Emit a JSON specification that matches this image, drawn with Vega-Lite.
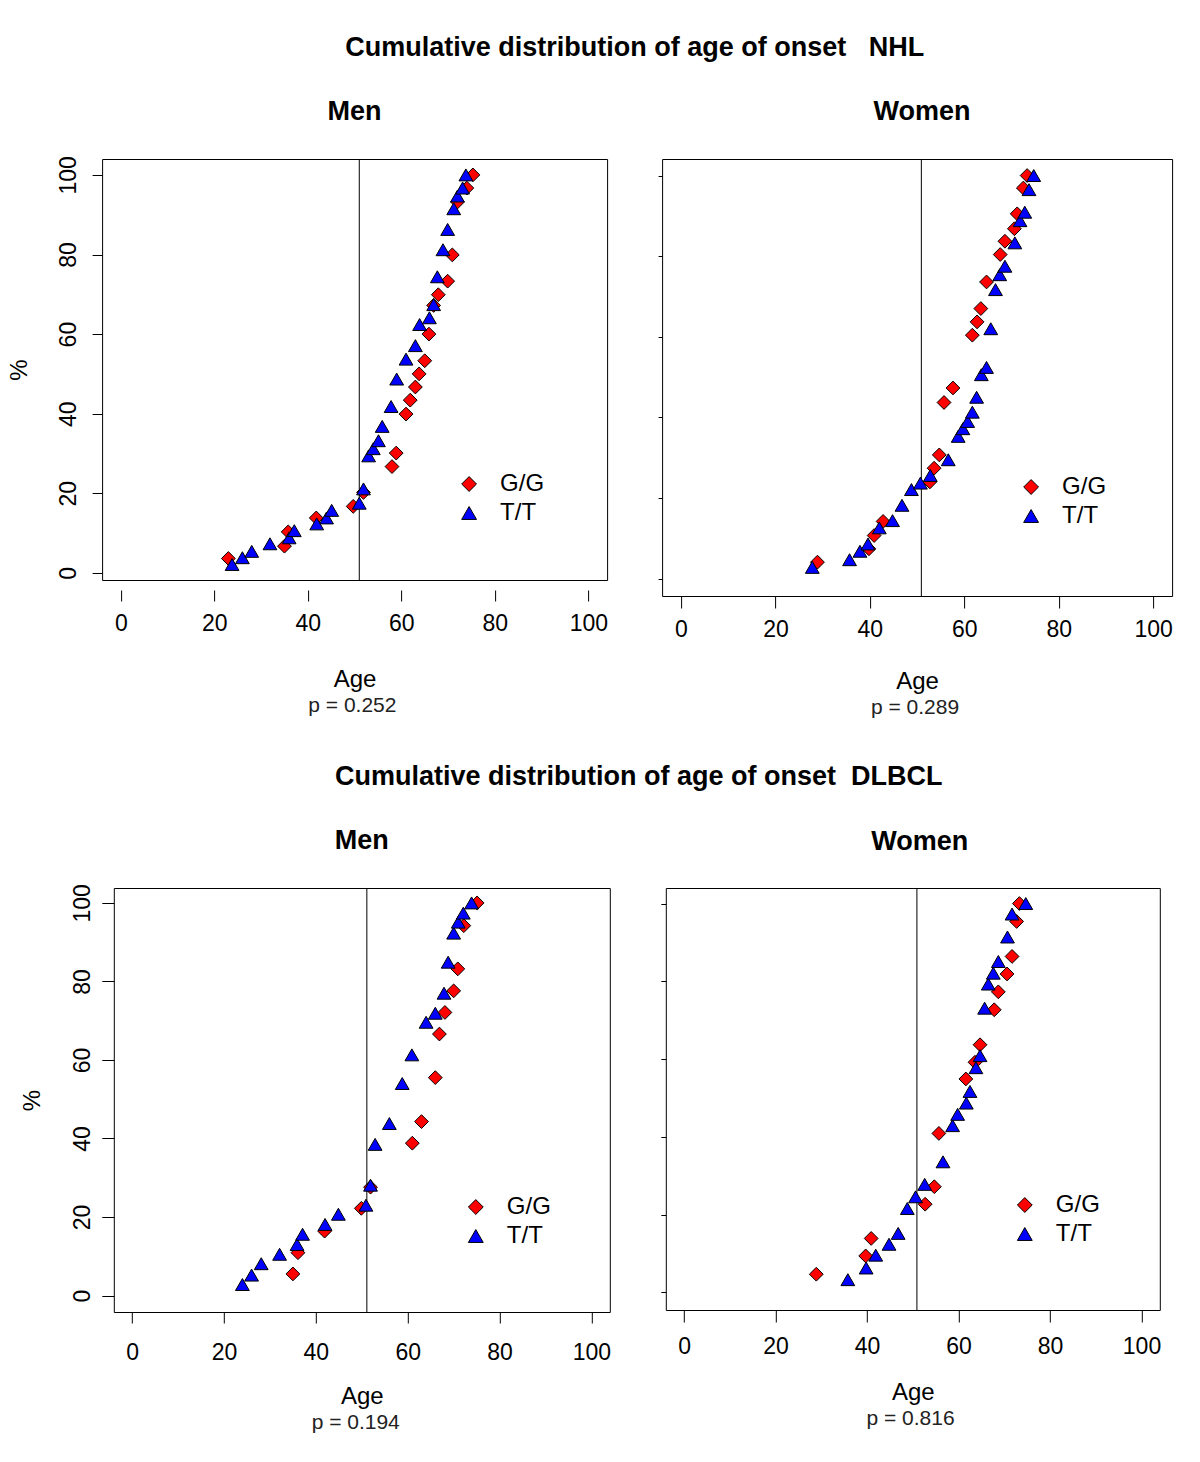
{
  "$schema": "https://vega.github.io/schema/vega-lite/v6.json",
  "background": "white",
  "padding": {"left": 6, "top": 34, "right": 5, "bottom": 5},
  "config": {
    "font": "Liberation Sans",
    "view": {"stroke": "black", "strokeWidth": 1},
    "axis": {"grid": false, "domain": false, "tickColor": "black", "tickWidth": 1, "labelFont": "Liberation Sans", "labelFontSize": 23, "labelColor": "black", "titleFont": "Liberation Sans", "titleFontSize": 24, "titleFontWeight": "normal", "titleColor": "black", "labelOverlap": false, "labelFlush": false},
    "legend": {"labelFont": "Liberation Sans", "labelFontSize": 24, "labelColor": "black", "symbolStrokeColor": "black", "symbolStrokeWidth": 1, "symbolOpacity": 1, "symbolSize": 220, "rowPadding": 5, "labelOffset": 19, "padding": 0},
    "title": {"font": "Liberation Sans", "fontSize": 27, "fontWeight": "bold", "color": "black"}
  },
  "datasets": {
    "medians": [
      {"panel": "nhl_men", "age": 51.0},
      {"panel": "nhl_women", "age": 50.9},
      {"panel": "dlbcl_men", "age": 51.1},
      {"panel": "dlbcl_women", "age": 50.9}
    ],
    "nhl_men": [
      {"genotype": "G/G", "age": 23.0, "pct": 3.6},
      {"genotype": "G/G", "age": 35.0, "pct": 6.7},
      {"genotype": "G/G", "age": 35.8, "pct": 10.3},
      {"genotype": "G/G", "age": 41.8, "pct": 13.8},
      {"genotype": "G/G", "age": 49.7, "pct": 16.7},
      {"genotype": "G/G", "age": 51.9, "pct": 20.2},
      {"genotype": "G/G", "age": 58.0, "pct": 26.7},
      {"genotype": "G/G", "age": 58.9, "pct": 30.1},
      {"genotype": "G/G", "age": 61.0, "pct": 39.9},
      {"genotype": "G/G", "age": 61.9, "pct": 43.4},
      {"genotype": "G/G", "age": 63.0, "pct": 46.7},
      {"genotype": "G/G", "age": 63.8, "pct": 50.0},
      {"genotype": "G/G", "age": 65.0, "pct": 53.3},
      {"genotype": "G/G", "age": 65.9, "pct": 60.0},
      {"genotype": "G/G", "age": 66.9, "pct": 67.2},
      {"genotype": "G/G", "age": 67.9, "pct": 69.9},
      {"genotype": "G/G", "age": 69.9, "pct": 73.3},
      {"genotype": "G/G", "age": 70.9, "pct": 79.9},
      {"genotype": "G/G", "age": 72.0, "pct": 93.2},
      {"genotype": "G/G", "age": 74.0, "pct": 96.7},
      {"genotype": "G/G", "age": 75.3, "pct": 100.0},
      {"genotype": "T/T", "age": 23.8, "pct": 2.1},
      {"genotype": "T/T", "age": 26.0, "pct": 3.8},
      {"genotype": "T/T", "age": 28.0, "pct": 5.4},
      {"genotype": "T/T", "age": 31.9, "pct": 7.3},
      {"genotype": "T/T", "age": 36.0, "pct": 8.8},
      {"genotype": "T/T", "age": 37.1, "pct": 10.6},
      {"genotype": "T/T", "age": 41.9, "pct": 12.3},
      {"genotype": "T/T", "age": 44.0, "pct": 13.8},
      {"genotype": "T/T", "age": 45.1, "pct": 15.7},
      {"genotype": "T/T", "age": 51.0, "pct": 17.5},
      {"genotype": "T/T", "age": 51.9, "pct": 21.1},
      {"genotype": "T/T", "age": 53.0, "pct": 29.4},
      {"genotype": "T/T", "age": 54.0, "pct": 31.2},
      {"genotype": "T/T", "age": 55.1, "pct": 33.2},
      {"genotype": "T/T", "age": 55.9, "pct": 36.8},
      {"genotype": "T/T", "age": 57.8, "pct": 41.8},
      {"genotype": "T/T", "age": 59.0, "pct": 48.7},
      {"genotype": "T/T", "age": 61.0, "pct": 53.7},
      {"genotype": "T/T", "age": 63.0, "pct": 57.1},
      {"genotype": "T/T", "age": 63.9, "pct": 62.4},
      {"genotype": "T/T", "age": 66.0, "pct": 64.1},
      {"genotype": "T/T", "age": 66.9, "pct": 67.4},
      {"genotype": "T/T", "age": 67.7, "pct": 74.4},
      {"genotype": "T/T", "age": 68.9, "pct": 81.2},
      {"genotype": "T/T", "age": 69.9, "pct": 86.3},
      {"genotype": "T/T", "age": 71.2, "pct": 91.5},
      {"genotype": "T/T", "age": 72.0, "pct": 94.7},
      {"genotype": "T/T", "age": 73.1, "pct": 96.7},
      {"genotype": "T/T", "age": 73.8, "pct": 100.0}
    ],
    "nhl_women": [
      {"genotype": "G/G", "age": 28.9, "pct": 4.1},
      {"genotype": "G/G", "age": 39.8, "pct": 7.4},
      {"genotype": "G/G", "age": 40.9, "pct": 10.7},
      {"genotype": "G/G", "age": 42.8, "pct": 14.2},
      {"genotype": "G/G", "age": 52.7, "pct": 24.0},
      {"genotype": "G/G", "age": 53.6, "pct": 27.4},
      {"genotype": "G/G", "age": 54.7, "pct": 30.7},
      {"genotype": "G/G", "age": 55.7, "pct": 43.7},
      {"genotype": "G/G", "age": 57.6, "pct": 47.3},
      {"genotype": "G/G", "age": 61.7, "pct": 60.4},
      {"genotype": "G/G", "age": 62.7, "pct": 63.7},
      {"genotype": "G/G", "age": 63.5, "pct": 67.0},
      {"genotype": "G/G", "age": 64.7, "pct": 73.6},
      {"genotype": "G/G", "age": 67.6, "pct": 80.4},
      {"genotype": "G/G", "age": 68.6, "pct": 83.7},
      {"genotype": "G/G", "age": 70.6, "pct": 86.8},
      {"genotype": "G/G", "age": 71.2, "pct": 90.5},
      {"genotype": "G/G", "age": 72.5, "pct": 96.9},
      {"genotype": "G/G", "age": 73.3, "pct": 100.0},
      {"genotype": "T/T", "age": 27.8, "pct": 2.8},
      {"genotype": "T/T", "age": 35.7, "pct": 4.7},
      {"genotype": "T/T", "age": 37.9, "pct": 6.8},
      {"genotype": "T/T", "age": 39.6, "pct": 8.6},
      {"genotype": "T/T", "age": 42.0, "pct": 12.6},
      {"genotype": "T/T", "age": 44.8, "pct": 14.4},
      {"genotype": "T/T", "age": 46.8, "pct": 18.2},
      {"genotype": "T/T", "age": 48.8, "pct": 22.1},
      {"genotype": "T/T", "age": 50.7, "pct": 23.7},
      {"genotype": "T/T", "age": 52.8, "pct": 25.6},
      {"genotype": "T/T", "age": 56.6, "pct": 29.5},
      {"genotype": "T/T", "age": 58.7, "pct": 35.3},
      {"genotype": "T/T", "age": 59.7, "pct": 37.2},
      {"genotype": "T/T", "age": 60.7, "pct": 39.0},
      {"genotype": "T/T", "age": 61.7, "pct": 41.3},
      {"genotype": "T/T", "age": 62.6, "pct": 45.0},
      {"genotype": "T/T", "age": 63.6, "pct": 50.6},
      {"genotype": "T/T", "age": 64.7, "pct": 52.4},
      {"genotype": "T/T", "age": 65.6, "pct": 62.0},
      {"genotype": "T/T", "age": 66.6, "pct": 71.7},
      {"genotype": "T/T", "age": 67.5, "pct": 75.4},
      {"genotype": "T/T", "age": 68.6, "pct": 77.5},
      {"genotype": "T/T", "age": 70.7, "pct": 83.3},
      {"genotype": "T/T", "age": 71.8, "pct": 88.8},
      {"genotype": "T/T", "age": 72.8, "pct": 90.9},
      {"genotype": "T/T", "age": 73.7, "pct": 96.5},
      {"genotype": "T/T", "age": 74.7, "pct": 100.0}
    ],
    "dlbcl_men": [
      {"genotype": "G/G", "age": 35.0, "pct": 5.5},
      {"genotype": "G/G", "age": 36.1, "pct": 10.9},
      {"genotype": "G/G", "age": 41.9, "pct": 16.4},
      {"genotype": "G/G", "age": 49.9, "pct": 22.2},
      {"genotype": "G/G", "age": 51.9, "pct": 27.6},
      {"genotype": "G/G", "age": 61.0, "pct": 38.8},
      {"genotype": "G/G", "age": 63.0, "pct": 44.3},
      {"genotype": "G/G", "age": 66.0, "pct": 55.5},
      {"genotype": "G/G", "age": 66.9, "pct": 66.6},
      {"genotype": "G/G", "age": 68.1, "pct": 72.1},
      {"genotype": "G/G", "age": 70.0, "pct": 77.6},
      {"genotype": "G/G", "age": 70.9, "pct": 83.2},
      {"genotype": "G/G", "age": 72.2, "pct": 94.2},
      {"genotype": "G/G", "age": 75.1, "pct": 100.0},
      {"genotype": "T/T", "age": 24.0, "pct": 2.8},
      {"genotype": "T/T", "age": 26.0, "pct": 5.2},
      {"genotype": "T/T", "age": 28.1, "pct": 8.1},
      {"genotype": "T/T", "age": 32.1, "pct": 10.5},
      {"genotype": "T/T", "age": 35.9, "pct": 13.0},
      {"genotype": "T/T", "age": 37.1, "pct": 15.6},
      {"genotype": "T/T", "age": 42.0, "pct": 18.1},
      {"genotype": "T/T", "age": 44.9, "pct": 20.7},
      {"genotype": "T/T", "age": 50.9, "pct": 23.0},
      {"genotype": "T/T", "age": 51.9, "pct": 28.1},
      {"genotype": "T/T", "age": 52.9, "pct": 38.5},
      {"genotype": "T/T", "age": 56.0, "pct": 43.8},
      {"genotype": "T/T", "age": 58.8, "pct": 54.0},
      {"genotype": "T/T", "age": 60.9, "pct": 61.3},
      {"genotype": "T/T", "age": 64.0, "pct": 69.6},
      {"genotype": "T/T", "age": 66.0, "pct": 71.9},
      {"genotype": "T/T", "age": 67.9, "pct": 77.0},
      {"genotype": "T/T", "age": 68.8, "pct": 84.9},
      {"genotype": "T/T", "age": 70.0, "pct": 92.3},
      {"genotype": "T/T", "age": 71.0, "pct": 95.1},
      {"genotype": "T/T", "age": 72.1, "pct": 97.4},
      {"genotype": "T/T", "age": 73.9, "pct": 100.0}
    ],
    "dlbcl_women": [
      {"genotype": "G/G", "age": 28.9, "pct": 4.7},
      {"genotype": "G/G", "age": 39.7, "pct": 9.4},
      {"genotype": "G/G", "age": 40.9, "pct": 13.9},
      {"genotype": "G/G", "age": 52.7, "pct": 22.7},
      {"genotype": "G/G", "age": 54.7, "pct": 27.2},
      {"genotype": "G/G", "age": 55.7, "pct": 40.9},
      {"genotype": "G/G", "age": 61.6, "pct": 54.9},
      {"genotype": "G/G", "age": 63.6, "pct": 59.2},
      {"genotype": "G/G", "age": 64.7, "pct": 63.7},
      {"genotype": "G/G", "age": 67.8, "pct": 72.7},
      {"genotype": "G/G", "age": 68.7, "pct": 77.3},
      {"genotype": "G/G", "age": 70.6, "pct": 81.9},
      {"genotype": "G/G", "age": 71.7, "pct": 86.4},
      {"genotype": "G/G", "age": 72.7, "pct": 95.4},
      {"genotype": "G/G", "age": 73.3, "pct": 100.0},
      {"genotype": "T/T", "age": 35.8, "pct": 3.3},
      {"genotype": "T/T", "age": 39.8, "pct": 6.3},
      {"genotype": "T/T", "age": 41.9, "pct": 9.6},
      {"genotype": "T/T", "age": 44.8, "pct": 12.4},
      {"genotype": "T/T", "age": 46.8, "pct": 15.2},
      {"genotype": "T/T", "age": 48.8, "pct": 21.6},
      {"genotype": "T/T", "age": 50.6, "pct": 24.6},
      {"genotype": "T/T", "age": 52.6, "pct": 27.8},
      {"genotype": "T/T", "age": 56.6, "pct": 33.6},
      {"genotype": "T/T", "age": 58.7, "pct": 42.9},
      {"genotype": "T/T", "age": 59.8, "pct": 45.8},
      {"genotype": "T/T", "age": 61.7, "pct": 48.7},
      {"genotype": "T/T", "age": 62.5, "pct": 51.7},
      {"genotype": "T/T", "age": 63.8, "pct": 57.8},
      {"genotype": "T/T", "age": 64.7, "pct": 60.9},
      {"genotype": "T/T", "age": 65.7, "pct": 73.1},
      {"genotype": "T/T", "age": 66.5, "pct": 79.3},
      {"genotype": "T/T", "age": 67.6, "pct": 82.1},
      {"genotype": "T/T", "age": 68.7, "pct": 85.1},
      {"genotype": "T/T", "age": 70.7, "pct": 91.4},
      {"genotype": "T/T", "age": 71.7, "pct": 97.3},
      {"genotype": "T/T", "age": 74.7, "pct": 100.0}
    ]
  },
  "center": true,
  "spacing": 45,
  "resolve": {"scale": {"shape": "independent", "fill": "independent"}, "legend": {"shape": "independent", "fill": "independent"}},
  "vconcat": [
    {
      "title": {"text": "Cumulative distribution of age of onset\u00a0\u00a0 NHL", "offset": 35, "anchor": "middle", "frame": "bounds", "dx": 45},
      "spacing": 49,
      "resolve": {"scale": {"shape": "independent", "fill": "independent"}, "legend": {"shape": "independent", "fill": "independent"}},
      "hconcat": [
        {
          "title": {"text": "p = 0.252", "orient": "bottom", "anchor": "middle", "frame": "bounds", "dx": 45, "fontSize": 21, "fontWeight": "normal", "color": "#222222", "offset": 3},
          "resolve": {"scale": {"shape": "independent", "fill": "independent"}, "legend": {"shape": "independent", "fill": "independent"}},
          "vconcat": [
            {
              "title": {"text": "Men", "offset": 30},
              "width": 505,
              "height": 421,
              "layer": [
                {
                  "data": {"name": "medians"},
                  "transform": [{"filter": "datum.panel == 'nhl_men'"}],
                  "mark": {"type": "rule", "color": "black", "strokeWidth": 1},
                  "encoding": {"x": {"field": "age", "type": "quantitative"}}
                },
                {
                  "data": {"name": "nhl_men"},
                  "mark": {"type": "point", "filled": true, "opacity": 1, "stroke": "black", "strokeWidth": 1, "size": 190},
                  "encoding": {
                    "x": {"field": "age", "type": "quantitative", "scale": {"domain": [-4, 104], "nice": false, "zero": false}, "axis": {"values": [0, 20, 40, 60, 80, 100], "title": "Age", "offset": 10, "tickSize": 11, "labelPadding": 11, "titlePadding": 32}},
                    "y": {"field": "pct", "type": "quantitative", "scale": {"domain": [-1.8, 104], "nice": false, "zero": false}, "axis": {"values": [0, 20, 40, 60, 80, 100], "title": "%", "tickSize": 10, "labelPadding": 12, "labelAngle": -90, "labelAlign": "center", "labelBaseline": "bottom", "titleFontSize": 24, "titlePadding": 26}},
                    "shape": {"field": "genotype", "type": "nominal", "scale": {"domain": ["G/G", "T/T"], "range": ["diamond", "triangle-up"]}, "legend": {"orient": "none", "legendX": 355, "legendY": 313, "title": null, "symbolSize": 220, "symbolStrokeColor": "black", "encode": {"symbols": {"update": {"stroke": {"value": "black"}, "strokeWidth": {"value": 1}}}}}},
                    "fill": {"field": "genotype", "type": "nominal", "scale": {"domain": ["G/G", "T/T"], "range": ["#ff0000", "#0000ff"]}, "legend": {"orient": "none", "legendX": 355, "legendY": 313, "title": null, "symbolSize": 220, "symbolStrokeColor": "black", "encode": {"symbols": {"update": {"stroke": {"value": "black"}, "strokeWidth": {"value": 1}}}}}}
                  }
                }
              ]
            }
          ]
        },
        {
          "title": {"text": "p = 0.289", "orient": "bottom", "anchor": "middle", "frame": "bounds", "dx": 0, "fontSize": 21, "fontWeight": "normal", "color": "#222222", "offset": 3},
          "resolve": {"scale": {"shape": "independent", "fill": "independent"}, "legend": {"shape": "independent", "fill": "independent"}},
          "vconcat": [
            {
              "title": {"text": "Women", "offset": 33, "dx": 5},
              "width": 510,
              "height": 437,
              "layer": [
                {
                  "data": {"name": "medians"},
                  "transform": [{"filter": "datum.panel == 'nhl_women'"}],
                  "mark": {"type": "rule", "color": "black", "strokeWidth": 1},
                  "encoding": {"x": {"field": "age", "type": "quantitative"}}
                },
                {
                  "data": {"name": "nhl_women"},
                  "mark": {"type": "point", "filled": true, "opacity": 1, "stroke": "black", "strokeWidth": 1, "size": 190},
                  "encoding": {
                    "x": {"field": "age", "type": "quantitative", "scale": {"domain": [-4, 104], "nice": false, "zero": false}, "axis": {"values": [0, 20, 40, 60, 80, 100], "title": "Age", "offset": 0, "tickSize": 12, "labelPadding": 10, "titlePadding": 28}},
                    "y": {"field": "pct", "type": "quantitative", "scale": {"domain": [-4.3, 104.1], "nice": false, "zero": false}, "axis": {"values": [0, 20, 40, 60, 80, 100], "title": null, "labels": false, "tickSize": 4}},
                    "shape": {"field": "genotype", "type": "nominal", "scale": {"domain": ["G/G", "T/T"], "range": ["diamond", "triangle-up"]}, "legend": {"orient": "none", "legendX": 357, "legendY": 316, "title": null, "symbolSize": 220, "symbolStrokeColor": "black", "encode": {"symbols": {"update": {"stroke": {"value": "black"}, "strokeWidth": {"value": 1}}}}}},
                    "fill": {"field": "genotype", "type": "nominal", "scale": {"domain": ["G/G", "T/T"], "range": ["#ff0000", "#0000ff"]}, "legend": {"orient": "none", "legendX": 357, "legendY": 316, "title": null, "symbolSize": 220, "symbolStrokeColor": "black", "encode": {"symbols": {"update": {"stroke": {"value": "black"}, "strokeWidth": {"value": 1}}}}}}
                  }
                }
              ]
            }
          ]
        }
      ]
    },
    {
      "title": {"text": "Cumulative distribution of age of onset\u00a0 DLBCL", "offset": 35, "anchor": "middle", "frame": "bounds", "dx": 48},
      "spacing": 48,
      "resolve": {"scale": {"shape": "independent", "fill": "independent"}, "legend": {"shape": "independent", "fill": "independent"}},
      "hconcat": [
        {
          "title": {"text": "p = 0.194", "orient": "bottom", "anchor": "middle", "frame": "bounds", "dx": 40, "fontSize": 21, "fontWeight": "normal", "color": "#222222", "offset": 3},
          "resolve": {"scale": {"shape": "independent", "fill": "independent"}, "legend": {"shape": "independent", "fill": "independent"}},
          "vconcat": [
            {
              "title": {"text": "Men", "offset": 29},
              "width": 496,
              "height": 424,
              "layer": [
                {
                  "data": {"name": "medians"},
                  "transform": [{"filter": "datum.panel == 'dlbcl_men'"}],
                  "mark": {"type": "rule", "color": "black", "strokeWidth": 1},
                  "encoding": {"x": {"field": "age", "type": "quantitative"}}
                },
                {
                  "data": {"name": "dlbcl_men"},
                  "mark": {"type": "point", "filled": true, "opacity": 1, "stroke": "black", "strokeWidth": 1, "size": 190},
                  "encoding": {
                    "x": {"field": "age", "type": "quantitative", "scale": {"domain": [-4, 104], "nice": false, "zero": false}, "axis": {"values": [0, 20, 40, 60, 80, 100], "title": "Age", "offset": 0, "tickSize": 11, "labelPadding": 18, "titlePadding": 20}},
                    "y": {"field": "pct", "type": "quantitative", "scale": {"domain": [-4.2, 103.8], "nice": false, "zero": false}, "axis": {"values": [0, 20, 40, 60, 80, 100], "title": "%", "tickSize": 12, "labelPadding": 7, "labelAngle": -90, "labelAlign": "center", "labelBaseline": "bottom", "titleFontSize": 24, "titlePadding": 27}},
                    "shape": {"field": "genotype", "type": "nominal", "scale": {"domain": ["G/G", "T/T"], "range": ["diamond", "triangle-up"]}, "legend": {"orient": "none", "legendX": 350, "legendY": 307, "title": null, "symbolSize": 220, "symbolStrokeColor": "black", "encode": {"symbols": {"update": {"stroke": {"value": "black"}, "strokeWidth": {"value": 1}}}}}},
                    "fill": {"field": "genotype", "type": "nominal", "scale": {"domain": ["G/G", "T/T"], "range": ["#ff0000", "#0000ff"]}, "legend": {"orient": "none", "legendX": 350, "legendY": 307, "title": null, "symbolSize": 220, "symbolStrokeColor": "black", "encode": {"symbols": {"update": {"stroke": {"value": "black"}, "strokeWidth": {"value": 1}}}}}}
                  }
                }
              ]
            }
          ]
        },
        {
          "title": {"text": "p = 0.816", "orient": "bottom", "anchor": "middle", "frame": "bounds", "dx": 0, "fontSize": 21, "fontWeight": "normal", "color": "#222222", "offset": 3},
          "resolve": {"scale": {"shape": "independent", "fill": "independent"}, "legend": {"shape": "independent", "fill": "independent"}},
          "vconcat": [
            {
              "title": {"text": "Women", "offset": 32, "dx": 7},
              "width": 494,
              "height": 422,
              "layer": [
                {
                  "data": {"name": "medians"},
                  "transform": [{"filter": "datum.panel == 'dlbcl_women'"}],
                  "mark": {"type": "rule", "color": "black", "strokeWidth": 1},
                  "encoding": {"x": {"field": "age", "type": "quantitative"}}
                },
                {
                  "data": {"name": "dlbcl_women"},
                  "mark": {"type": "point", "filled": true, "opacity": 1, "stroke": "black", "strokeWidth": 1, "size": 190},
                  "encoding": {
                    "x": {"field": "age", "type": "quantitative", "scale": {"domain": [-4, 104], "nice": false, "zero": false}, "axis": {"values": [0, 20, 40, 60, 80, 100], "title": "Age", "offset": 0, "tickSize": 12, "labelPadding": 13, "titlePadding": 22}},
                    "y": {"field": "pct", "type": "quantitative", "scale": {"domain": [-4.5, 104.0], "nice": false, "zero": false}, "axis": {"values": [0, 20, 40, 60, 80, 100], "title": null, "labels": false, "tickSize": 5}},
                    "shape": {"field": "genotype", "type": "nominal", "scale": {"domain": ["G/G", "T/T"], "range": ["diamond", "triangle-up"]}, "legend": {"orient": "none", "legendX": 347, "legendY": 305, "title": null, "symbolSize": 220, "symbolStrokeColor": "black", "encode": {"symbols": {"update": {"stroke": {"value": "black"}, "strokeWidth": {"value": 1}}}}}},
                    "fill": {"field": "genotype", "type": "nominal", "scale": {"domain": ["G/G", "T/T"], "range": ["#ff0000", "#0000ff"]}, "legend": {"orient": "none", "legendX": 347, "legendY": 305, "title": null, "symbolSize": 220, "symbolStrokeColor": "black", "encode": {"symbols": {"update": {"stroke": {"value": "black"}, "strokeWidth": {"value": 1}}}}}}
                  }
                }
              ]
            }
          ]
        }
      ]
    }
  ]
}
